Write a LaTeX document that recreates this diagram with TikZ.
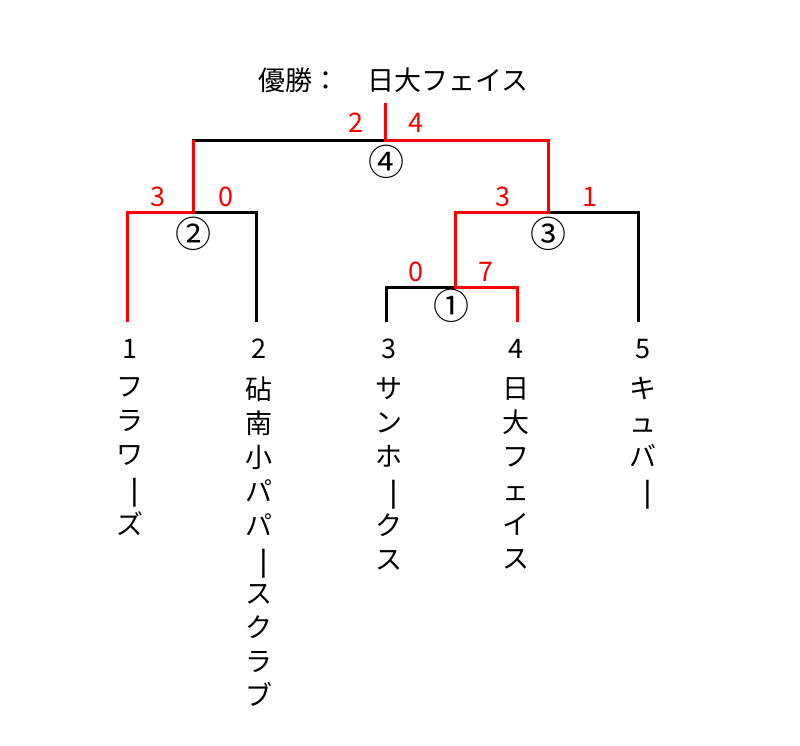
\documentclass[tikz,border=0pt]{standalone}
\usepackage{fontspec}
\usepackage{graphicx}
\newfontfamily\jpfont{Noto Sans CJK JP}
\newcommand{\chouon}{\rotatebox[origin=c]{-90}{\scalebox{1.35}[1]{ー}}}

\begin{document}
\begin{tikzpicture}[x=1pt, y=-1pt,
				every node/.style={ text=black, inner sep=0pt,
						font=\jpfont\fontsize{27}{34}\selectfont },
				score/.style={ text=red },
				round/.style={ font=\jpfont\fontsize{36}{36}\selectfont },
				win/.style={ draw=red, line width=3pt },
				lose/.style={ draw=black, line width=3pt },
				team/.style={ align=center, anchor=north } ]

			\useasboundingbox (0,0) rectangle (800,745);

			\node (champ) at (299,80) {優勝：};
			\node (winner) at (448,80) {日大フェイス};

			\coordinate (top) at (385,103);
			\coordinate (f) at (385,140);
			\coordinate (s2) at (193,212);
			\coordinate (s3) at (548,212);
			\coordinate (q1) at (455,287);
			\coordinate (p1) at (127,322);
			\coordinate (p2) at (256,322);
			\coordinate (p3) at (386,322);
			\coordinate (p4) at (517,322);
			\coordinate (p5) at (638,322);

			\draw[lose] (f) -| (s2);
			\draw[lose] (s2) -| (p2);
			\draw[lose] (s3) -| (p5);
			\draw[lose] (q1) -| (p3);

			\draw[win] (top) -- (f) -| (s3) -| (q1) -| (p4);
			\draw[win] (s2 |- f) -- (s2) -| (p1);

			\node[score] (f-l) at (356,123) {2};
			\node[score] (f-r) at (416,123) {4};
			\node[score] (s2-l) at (158,197) {3};
			\node[score] (s2-r) at (226,197) {0};
			\node[score] (s3-l) at (503,197) {3};
			\node[score] (s3-r) at (590,197) {1};
			\node[score] (q1-l) at (416,272) {0};
			\node[score] (q1-r) at (486,272) {7};

			\node[round] (m4) at (386,162) {④};
			\node[round] (m2) at (193,234) {②};
			\node[round] (m3) at (548,234) {③};
			\node[round] (m1) at (451,306) {①};

			\node (t1) at (130,349) {1};
			\node (t2) at (259,349) {2};
			\node (t3) at (389,349) {3};
			\node (t4) at (516,349) {4};
			\node (t5) at (643,349) {5};

			\node[team] (n1) at (130,377) {フ\\ラ\\ワ\\\chouon\\ズ};
			\node[team] (n2) at (259,377) {砧\\南\\小\\パ\\パ\\\chouon\\ス\\ク\\ラ\\ブ};
			\node[team] (n3) at (389,377) {サ\\ン\\ホ\\\chouon\\ク\\ス};
			\node[team] (n4) at (516,377) {日\\大\\フ\\ェ\\イ\\ス};
			\node[team] (n5) at (643,377) {キ\\ュ\\バ\\\chouon};
		\end{tikzpicture}
\end{document}
